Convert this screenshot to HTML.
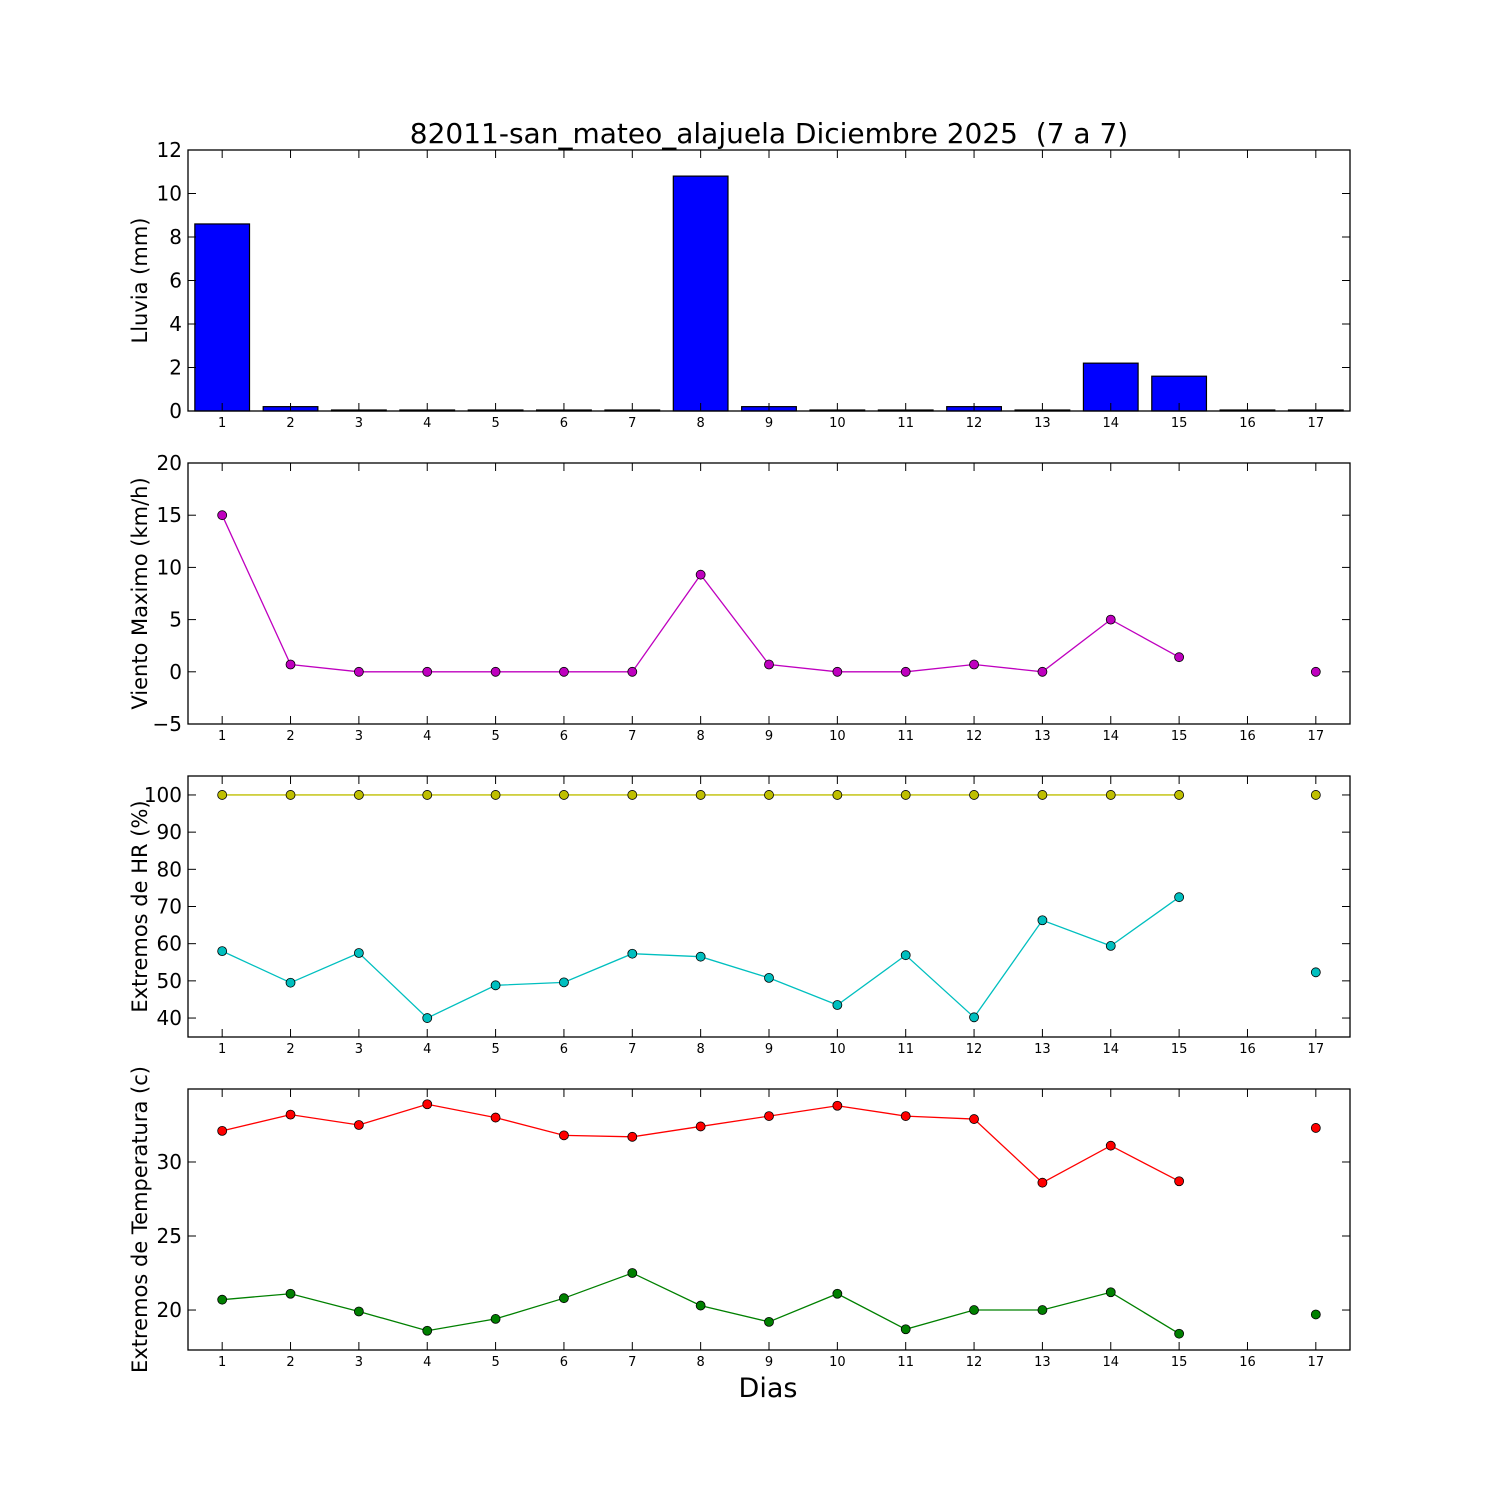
<!DOCTYPE html>
<html><head><meta charset="utf-8"><style>
body{margin:0;background:#fff;}
svg{display:block;font-family:"DejaVu Sans","Liberation Sans",sans-serif;}
</style></head><body>
<svg id="chart" width="1500" height="1500" viewBox="0 0 1500 1500" xmlns="http://www.w3.org/2000/svg">
<rect width="1500" height="1500" fill="#fff"/>
<text x="769" y="143" font-size="28" text-anchor="middle" xml:space="preserve" style="white-space:pre">82011-san_mateo_alajuela Diciembre 2025  (7 a 7)</text>
<text x="768" y="1397" font-size="27" text-anchor="middle">Dias</text>
</svg>
<script>
const days = [1,2,3,4,5,6,7,8,9,10,11,12,13,14,15,16,17];
const rain = [8.6,0.2,0,0,0,0,0,10.8,0.2,0,0,0.2,0,2.2,1.6,0,0];
const wind = [15,0.7,0,0,0,0,0,9.3,0.7,0,0,0.7,0,5,1.4,null,0];
const hrMax = [100,100,100,100,100,100,100,100,100,100,100,100,100,100,100,null,100];
const hrMin = [58,49.5,57.5,40,48.8,49.6,57.3,56.5,50.8,43.5,56.9,40.2,66.3,59.4,72.5,null,52.3];
const tMax = [32.1,33.2,32.5,33.9,33.0,31.8,31.7,32.4,33.1,33.8,33.1,32.9,28.6,31.1,28.7,null,32.3];
const tMin = [20.7,21.1,19.9,18.6,19.4,20.8,22.5,20.3,19.2,21.1,18.7,20.0,20.0,21.2,18.4,null,19.7];
const rainTicks = [0,2,4,6,8,10,12];
const windTicks = [-5,0,5,10,15,20];
const hrTicks = [40,50,60,70,80,90,100];
const tTicks = [20,25,30];

const NS='http://www.w3.org/2000/svg';
const svg=document.getElementById('chart');
function mk(tag,attrs,parent){const e=document.createElementNS(NS,tag);for(const k in attrs)e.setAttribute(k,attrs[k]);(parent||svg).appendChild(e);return e;}
const X0=188,X1=1350;
const xs=d=>X0+(d-0.5)/17*(X1-X0);

function panel(name,top,bot,ymin,ymax,yticks,label){
  const g=mk('g',{});
  
  
  const ys=v=>bot-(v-ymin)/(ymax-ymin)*(bot-top);
  return {g,ys,draw(){
    mk('rect',{x:X0,y:top,width:X1-X0,height:bot-top,fill:'none',stroke:'#000','stroke-width':1.3},g);
    days.forEach(d=>{const x=xs(d);
      mk('line',{x1:x,x2:x,y1:bot,y2:bot-8,stroke:'#000'},g);
      mk('line',{x1:x,x2:x,y1:top,y2:top+8,stroke:'#000'},g);
      const t=mk('text',{x:x,y:bot+16,'font-size':13,'text-anchor':'middle'},g);t.textContent=d;
      
      
    });
    yticks.forEach(v=>{const y=ys(v);
      mk('line',{x1:X0,x2:X0+8,y1:y,y2:y,stroke:'#000'},g);
      mk('line',{x1:X1,x2:X1-8,y1:y,y2:y,stroke:'#000'},g);
      const t=mk('text',{x:X0-6,y:y+7,'font-size':20,'text-anchor':'end'},g);t.textContent=v<0?'\u2212'+(-v):v;
      
      
    });
    const cy=(top+bot)/2;
    const t=mk('text',{x:147,y:cy,'font-size':21,'text-anchor':'middle',transform:`rotate(-90 147 ${cy})`},g);t.textContent=label;
    
    
  }};
}
function series(p,vals,color,name){
  let seg=[];const segs=[];
  vals.forEach((v,i)=>{if(v===null){if(seg.length)segs.push(seg);seg=[];}else seg.push([xs(days[i]),p.ys(v)]);});
  if(seg.length)segs.push(seg);
  segs.forEach(s=>{if(s.length>1){const l=mk('polyline',{points:s.map(q=>q.join(',')).join(' '),fill:'none',stroke:color,'stroke-width':1.3},p.g);
    
    }});
  vals.forEach((v,i)=>{if(v===null)return;const c=mk('circle',{cx:xs(days[i]),cy:p.ys(v),r:4.5,fill:color,stroke:'#000','stroke-width':0.8},p.g);
    
    });
}
const p1=panel('rain',150,411,0,12,rainTicks,'Lluvia (mm)');
rain.forEach((v,i)=>{const w=0.8/17*(X1-X0);const y=p1.ys(v);
  const r=mk('rect',{x:xs(days[i])-w/2,y:Math.min(y,p1.ys(0)-1),width:w,height:Math.max(1,p1.ys(0)-y),fill:'#0000ff',stroke:'#000','stroke-width':1.2},p1.g);
  
  });
p1.draw();
const p2=panel('wind',463,724,-5,20,windTicks,'Viento Maximo (km/h)');
series(p2,wind,'#bf00bf','wind');p2.draw();
const p3=panel('humidity',776,1037,34.9,105.1,hrTicks,'Extremos de HR (%)');
series(p3,hrMax,'#bfbf00','hr-max');series(p3,hrMin,'#00bfbf','hr-min');p3.draw();
const p4=panel('temperature',1089,1350,17.3,34.93,tTicks,'Extremos de Temperatura (c)');
series(p4,tMax,'#ff0000','temp-max');series(p4,tMin,'#008000','temp-min');p4.draw();
</script>
</body></html>
